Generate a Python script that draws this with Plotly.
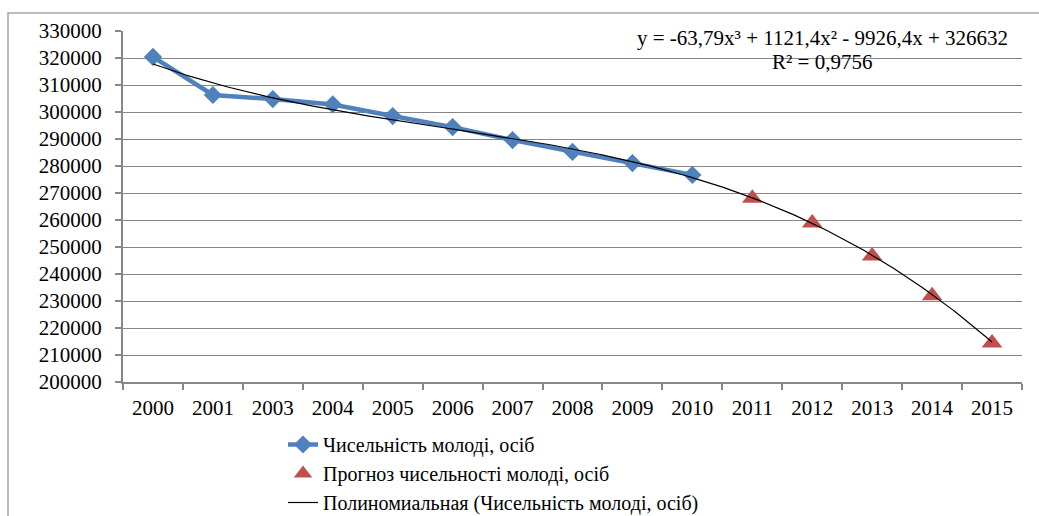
import numpy as np
import plotly.graph_objects as go

years = ["2000", "2001", "2003", "2004", "2005", "2006", "2007", "2008",
         "2009", "2010", "2011", "2012", "2013", "2014", "2015"]
actual = [320400, 306300, 304800, 302800, 298500, 294400, 289600, 285200,
          281100, 276700]
forecast = [268100, 258900, 246700, 231900, 214400]
trend_coef = [-63.79, 1121.4, -9926.4, 326632]  # x^3, x^2, x, const (x = 1..n)

name_actual = "Чисельність молоді, осіб"
name_fc = "Прогноз чисельності молоді, осіб"
name_trend = "Полиномиальная (Чисельність молоді, осіб)"

pos = list(range(len(years)))
pos_actual = pos[:len(actual)]
pos_fc = pos[len(actual):]

# trend curve from the equation, x index 1..15
tx = np.linspace(1, len(years), 300)
ty = np.polyval(trend_coef, tx)

FONT = "Liberation Serif"
W, H = 1039, 516
L, R, T, B = 123, 17, 31, 134
pw, ph = W - L - R, H - T - B

def px_x(p):
    return (p - L) / pw

def px_y(p):
    return (H - B - p) / ph

fig = go.Figure()
fig.add_trace(go.Scatter(
    x=pos_actual, y=actual, mode="lines+markers", name=name_actual,
    line=dict(color="#4F81BD", width=4.5),
    marker=dict(symbol="diamond", size=14, color="#4F81BD"),
    legendgroup="a", cliponaxis=False))
fig.add_trace(go.Scatter(
    x=pos_fc, y=forecast, mode="markers", name=name_fc,
    marker=dict(symbol="triangle-up", size=18, color="#C0504D"),
    legendgroup="b", cliponaxis=False))
fig.add_trace(go.Scatter(
    x=tx - 1, y=ty, mode="lines", name=name_trend,
    line=dict(color="black", width=1.2),
    legendgroup="c", cliponaxis=False))

fig.update_layout(
    width=W, height=H,
    margin=dict(l=L, r=R, t=T, b=B, autoexpand=False),
    paper_bgcolor="white", plot_bgcolor="white",
    font=dict(family=FONT, size=20, color="black"),
    showlegend=True,
    legend=dict(xref="container", yref="container",
                x=283 / W, y=1 - 425 / H, xanchor="left", yanchor="top",
                font=dict(family=FONT, size=20, color="black"),
                traceorder="grouped", tracegroupgap=0,
                bgcolor="rgba(0,0,0,0)", itemwidth=30),
    xaxis=dict(
        range=[-0.5, len(years) - 0.5],
        tickmode="array", tickvals=pos, ticktext=years,
        ticks="", showgrid=False, zeroline=False,
        showline=True, linecolor="#878787", linewidth=2,
        tickfont=dict(family=FONT, size=21, color="black"),
        ticklabelstandoff=6,
        automargin=False,
        minor=dict(tickmode="array",
                   tickvals=[p - 0.5 for p in pos] + [len(years) - 0.5],
                   ticks="outside", ticklen=6, tickcolor="#878787",
                   tickwidth=1.5, showgrid=False),
    ),
    yaxis=dict(
        range=[200000, 330000], dtick=10000, tick0=200000,
        ticks="outside", ticklen=6, tickcolor="#878787", tickwidth=1.5,
        showgrid=True, gridcolor="#878787", gridwidth=1.3,
        zeroline=False, showline=True, linecolor="#878787", linewidth=2,
        tickformat="d", automargin=False, ticklabelstandoff=9,
        tickfont=dict(family=FONT, size=21, color="black"),
    ),
)

fig.add_shape(type="rect", xref="paper", yref="paper",
              x0=px_x(8), x1=px_x(1045), y0=px_y(530), y1=px_y(13),
              line=dict(color="#A6A6A6", width=1.5), layer="below")

fig.add_annotation(xref="paper", yref="paper", x=px_x(822), y=px_y(38),
                   text="y = -63,79x³ + 1121,4x² - 9926,4x + 326632",
                   showarrow=False, xanchor="center", yanchor="middle",
                   font=dict(family=FONT, size=21, color="black"))
fig.add_annotation(xref="paper", yref="paper", x=px_x(822), y=px_y(62),
                   text="R² = 0,9756",
                   showarrow=False, xanchor="center", yanchor="middle",
                   font=dict(family=FONT, size=21, color="black"))

fig.write_html("out.html", config={"displayModeBar": False},
               post_script="document.body.style.margin='0px';")
